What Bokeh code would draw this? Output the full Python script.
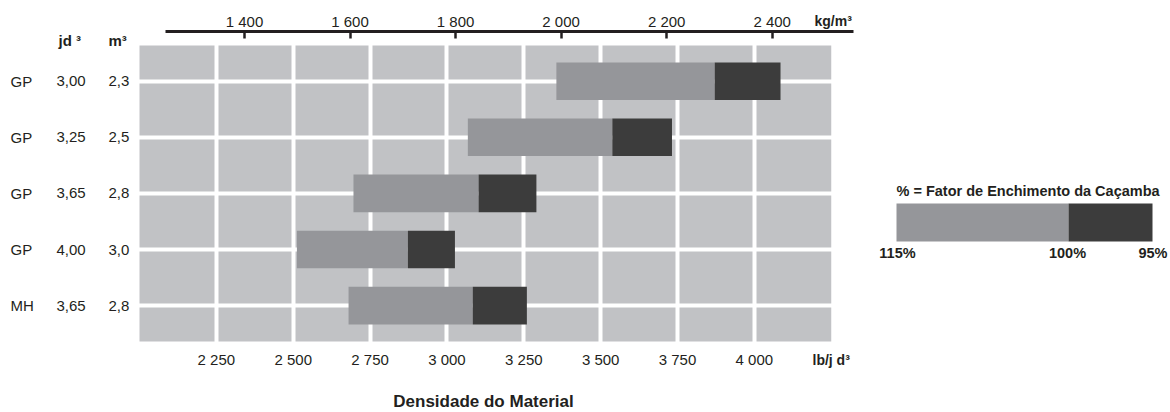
from bokeh.plotting import figure
from bokeh.models import (Range1d, LinearAxis, FixedTicker, BoxAnnotation, Label,
                          LabelSet, ColumnDataSource, Grid)
from bokeh.core.properties import value
from bokeh.embed import file_html
from bokeh.resources import INLINE

# ---------------- data ----------------
machines = ["GP", "GP", "GP", "GP", "MH"]
cap_yd3 = ["3,00", "3,25", "3,65", "4,00", "3,65"]
cap_m3 = ["2,3", "2,5", "2,8", "3,0", "2,8"]
rows = [5, 4, 3, 2, 1]
dens_115 = [3356, 3068, 2696, 2512, 2680]   # lb/yd3 at 115 % fill
dens_100 = [3871, 3538, 3103, 2873, 3084]   # lb/yd3 at 100 % fill
dens_95 = [4085, 3732, 3291, 3026, 3260]    # lb/yd3 at 95 % fill
lb_ticks = [2250, 2500, 2750, 3000, 3250, 3500, 3750, 4000]
lb_labels = ["2 250", "2 500", "2 750", "3 000", "3 250", "3 500", "3 750", "4 000"]
kg_ticks = [1400, 1600, 1800, 2000, 2200, 2400]
kg_labels = ["1 400", "1 600", "1 800", "2 000", "2 200", "2 400"]
fill_labels = ["115%", "100%", "95%"]

# ---------------- styles ----------------
GREY = "#c1c2c5"
LIGHT = "#95969a"
DARK = "#3c3c3c"
INK = "#231f20"
FONT = "Liberation Sans"
W, H = 1170, 412

PX_PER_LB = 76.86 / 250.0
Y_TOP_ROW_PX, ROW_PX = 80.7, 56.1


def lx(px):  # canvas pixel -> lb/yd3 data
    return 2000.0 + (px - 139) / PX_PER_LB


def ly(py):  # canvas pixel -> row data
    return 5 - (py - Y_TOP_ROW_PX) / ROW_PX


def kg(px):  # canvas pixel -> kg/m3 (top axis)
    return 1400 + (px - 244) / 0.5277


p = figure(width=W, height=H, output_backend="svg", toolbar_location=None,
           x_range=Range1d(lx(0), lx(W)), y_range=Range1d(ly(H), ly(0)),
           x_axis_location=None, y_axis_location=None, min_border=0,
           outline_line_color=None, background_fill_color="white",
           border_fill_color="white")
p.center = [c for c in p.center if not isinstance(c, Grid)]

# grey plotting field
p.add_layout(BoxAnnotation(left=2000, right=4250, top=ly(45), bottom=ly(341),
                           fill_color=GREY, fill_alpha=1, line_color=None, level="image"))

# white grid
p.add_layout(Grid(dimension=0, ticker=FixedTicker(ticks=lb_ticks),
                  grid_line_color="white", grid_line_width=4))
p.add_layout(Grid(dimension=1, ticker=FixedTicker(ticks=rows),
                  grid_line_color="white", grid_line_width=4))

# bars
src = ColumnDataSource(dict(y=rows, a=dens_115, b=dens_100, c=dens_95,
                            m=machines, v1=cap_yd3, v2=cap_m3))
p.hbar(y="y", left="a", right="b", height=0.67, source=src, fill_color=LIGHT, line_color=None)
p.hbar(y="y", left="b", right="c", height=0.67, source=src, fill_color=DARK, line_color=None)

# bottom axis (lb/yd3)
xa = LinearAxis(ticker=FixedTicker(ticks=lb_ticks), fixed_location=ly(341),
                major_label_overrides={t: l for t, l in zip(lb_ticks, lb_labels)},
                axis_line_color=None, major_tick_line_color=None,
                minor_tick_line_color=None, major_label_standoff=3,
                major_label_text_font=FONT, major_label_text_font_size="15px",
                major_label_text_color=INK)
p.add_layout(xa, "below")

# top axis (kg/m3)
p.extra_x_ranges = {"kg": Range1d(kg(0), kg(W))}
ta = LinearAxis(x_range_name="kg", ticker=FixedTicker(ticks=kg_ticks), fixed_location=ly(31),
                major_label_overrides={t: l for t, l in zip(kg_ticks, kg_labels)},
                bounds=(kg(165), kg(853)), axis_line_width=3, axis_line_color=INK,
                major_tick_in=7, major_tick_out=0, major_tick_line_width=2.5,
                major_tick_line_color=INK, minor_tick_line_color=None,
                major_label_standoff=2, major_label_text_font=FONT,
                major_label_text_font_size="15px", major_label_text_color=INK)
p.add_layout(ta, "above")

# left columns
common = dict(source=src, y="y", text_font=value(FONT), text_font_size="15px",
              text_color=INK, text_baseline="middle", text_align="left")
p.add_layout(LabelSet(x=lx(10), text="m", **common))
p.add_layout(LabelSet(x=lx(56), text="v1", **common))
p.add_layout(LabelSet(x=lx(108), text="v2", **common))


def lab(txt, px, py, size="14px", bold=True, align="left"):
    p.add_layout(Label(x=lx(px), y=ly(py), text=txt, text_font=FONT,
                       text_font_size=size, text_font_style="bold" if bold else "normal",
                       text_color=INK, text_baseline="middle", text_align=align))


lab("jd \u00b3", 58, 40, size="15px")
lab("m\u00b3", 108, 40, size="15px")
lab("kg/m\u00b3", 814, 20)
lab("lb/j d\u00b3", 812, 359)
lab("Densidade do Material", 483, 401, size="17px", align="center")

# legend
lab("% = Fator de Enchimento da Caçamba", 896, 190, size="14.5px")
p.add_layout(BoxAnnotation(left=lx(896), right=lx(1068), top=ly(203), bottom=ly(241),
                           fill_color=LIGHT, fill_alpha=1, line_color=None))
p.add_layout(BoxAnnotation(left=lx(1068), right=lx(1152), top=ly(203), bottom=ly(241),
                           fill_color=DARK, fill_alpha=1, line_color=None))
lab(fill_labels[0], 897, 252, size="14.5px", align="center")
lab(fill_labels[1], 1067, 252, size="14.5px", align="center")
lab(fill_labels[2], 1167, 252, size="14.5px", align="right")

open("out.html", "w").write(file_html(p, INLINE))
